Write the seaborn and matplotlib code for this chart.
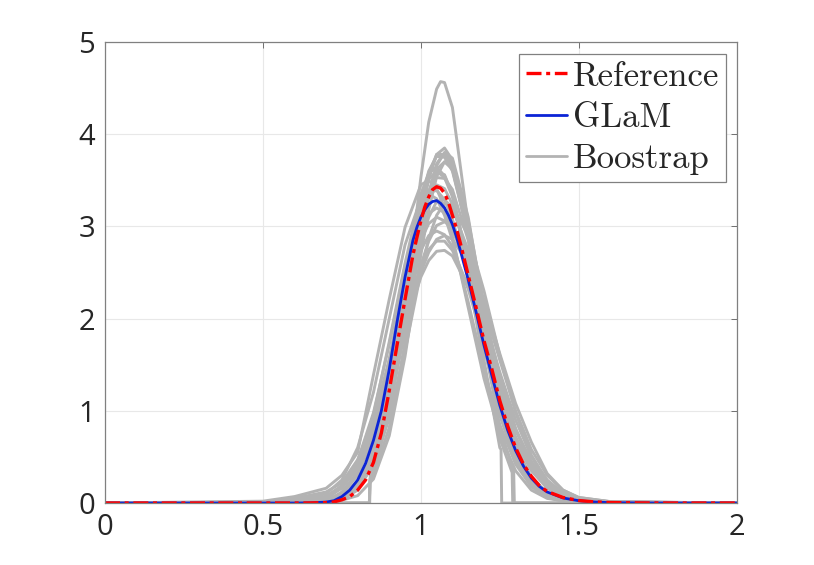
import matplotlib
matplotlib.use("Agg")
import matplotlib.pyplot as plt
from matplotlib.lines import Line2D
import pandas as pd
import seaborn as sns

# density of reference and GLaM estimate
x_fine = [0, 0.6, 0.65, 0.7, 0.725, 0.75, 0.775, 0.8, 0.825, 0.85, 0.875, 0.9, 0.925,
          0.95, 0.975, 0.9875, 1.0, 1.0125, 1.025, 1.0375, 1.05, 1.0625, 1.075, 1.0875,
          1.1, 1.1125, 1.125, 1.15, 1.175, 1.2, 1.225, 1.25, 1.275, 1.3, 1.325, 1.35,
          1.375, 1.4, 1.45, 1.5, 1.55, 1.6, 1.7, 1.8, 2.0]
ref_pdf = [0, 0, 0.001, 0.005, 0.012, 0.035, 0.07, 0.14, 0.25, 0.44, 0.76, 1.22, 1.72,
           2.21, 2.69, 2.88, 3.06, 3.21, 3.32, 3.40, 3.43, 3.415, 3.36, 3.26,
           3.12, 2.98, 2.82, 2.47, 2.12, 1.76, 1.45, 1.11, 0.835, 0.6, 0.42, 0.29,
           0.19, 0.125, 0.06, 0.027, 0.012, 0.005, 0.001, 0, 0]
glam_pdf = [0, 0, 0.002, 0.01, 0.025, 0.07, 0.14, 0.25, 0.43, 0.68, 1.0, 1.45, 1.97,
            2.45, 2.85, 2.99, 3.1, 3.18, 3.24, 3.27, 3.28, 3.25, 3.2, 3.12,
            3.02, 2.89, 2.74, 2.42, 2.07, 1.71, 1.38, 1.06, 0.79, 0.57, 0.4, 0.27,
            0.18, 0.12, 0.055, 0.025, 0.011, 0.004, 0.001, 0, 0]

# bootstrap replicates
x_boot = [0, 0.5, 0.6, 0.7, 0.75, 0.8, 0.85, 0.9, 0.95, 1.0, 1.025, 1.05, 1.075, 1.1,
          1.15, 1.2, 1.25, 1.3, 1.35, 1.4, 1.45, 1.5, 1.6, 2.0]
boot_1 = [0, 0, 0.005, 0.01, 0.04, 0.14, 0.42, 1.04, 2.0, 3.08, 3.51, 3.78, 3.85, 3.72, 3.01, 2.03, 1.12, 0.52, 0.2, 0.07, 0.035, 0.015, 0.003, 0]
boot_2 = [0, 0, 0.005, 0.015, 0.07, 0.23, 0.61, 1.32, 2.29, 3.26, 3.6, 3.76, 3.75, 3.6, 2.92, 2.02, 1.19, 0.6, 0.26, 0.09, 0.04, 0.02, 0.004, 0]
boot_3 = [0, 0, 0, 0.005, 0.03, 0.08, 0.26, 0.73, 1.59, 2.69, 3.18, 3.54, 3.70, 3.65, 3.07, 2.15, 1.24, 0.6, 0.23, 0.08, 0.035, 0.015, 0.003, 0]
boot_4 = [0, 0, 0.005, 0.02, 0.12, 0.34, 0.79, 1.55, 2.47, 3.28, 3.51, 3.6, 3.53, 3.32, 2.61, 1.75, 1.0, 0.49, 0.2, 0.07, 0.035, 0.015, 0.003, 0]
boot_5 = [0, 0.02, 0.07, 0.16, 0.3, 0.55, 1.39, 2.21, 2.99, 3.45, 3.5, 3.41, 3.2, 2.89, 2.12, 1.35, 0.74, 0.35, 0.14, 0.05, 0.025, 0.01, 0.002, 0]
boot_6 = [0, 0.005, 0.02, 0.06, 0.18, 0.46, 0.98, 1.72, 2.57, 3.22, 3.37, 3.39, 3.29, 3.08, 2.45, 1.68, 1.01, 0.53, 0.24, 0.1, 0.045, 0.02, 0.004, 0]
boot_7 = [0, 0, 0.005, 0.015, 0.08, 0.23, 0.57, 1.19, 2.0, 2.81, 3.1, 3.27, 3.29, 3.2, 2.74, 2.08, 1.38, 0.81, 0.41, 0.19, 0.08, 0.04, 0.01, 0]
boot_8 = [0, 0.005, 0.025, 0.07, 0.18, 0.43, 0.89, 1.56, 2.32, 2.95, 3.14, 3.2, 3.15, 3.03, 2.56, 1.94, 1.31, 0.79, 0.43, 0.21, 0.1, 0.05, 0.012, 0]
boot_9 = [0, 0, 0.005, 0.02, 0.09, 0.24, 0.57, 1.11, 1.85, 2.58, 2.84, 3.01, 3.05, 3.0, 2.69, 2.2, 1.62, 1.08, 0.66, 0.32, 0.14, 0.06, 0.015, 0]
boot_10 = [0, 0.01, 0.05, 0.12, 0.22, 0.47, 0.9, 1.52, 2.19, 2.74, 2.9, 2.95, 2.91, 2.78, 2.32, 1.73, 1.14, 0.67, 0.35, 0.16, 0.07, 0.03, 0.008, 0]
boot_11 = [0, 0, 0.01, 0.04, 0.17, 0.38, 0.77, 1.34, 1.99, 2.56, 2.75, 2.84, 2.84, 2.74, 2.35, 1.78, 1.21, 0.72, 0.38, 0.18, 0.08, 0.035, 0.01, 0]
boot_12 = [0, 0.005, 0.02, 0.06, 0.18, 0.4, 0.78, 1.31, 1.92, 2.45, 2.63, 2.73, 2.74, 2.68, 2.34, 1.83, 1.29, 0.8, 0.45, 0.23, 0.1, 0.04, 0.01, 0]
boot_13 = [0, 0, 0.003, 0.01, 0.05, 0.18, 0.51, 1.16, 2.09, 3.01, 3.31, 3.45, 3.41, 3.24, 2.64, 1.85, 1.12, 0.59, 0.26, 0.11, 0.04, 0.015, 0.003, 0]
boot_14 = [0, 0, 0, 0.005, 0.04, 0.15, 0.43, 0.99, 1.89, 2.91, 3.35, 3.66, 3.80, 3.74, 3.1, 2.1, 1.14, 0.51, 0.19, 0.06, 0.02, 0.008, 0.002, 0]
boot_15 = [0, 0.01, 0.03, 0.07, 0.18, 0.4, 0.95, 1.75, 2.6, 3.35, 3.58, 3.64, 3.55, 3.35, 2.6, 1.72, 0.95, 0.45, 0.18, 0.06, 0.03, 0.012, 0.002, 0]
boot_16 = [0, 0, 0.01, 0.03, 0.1, 0.3, 0.72, 1.42, 2.3, 3.1, 3.38, 3.53, 3.52, 3.4, 2.85, 2.0, 1.2, 0.62, 0.28, 0.11, 0.05, 0.02, 0.005, 0]
boot_17 = [0, 0.005, 0.02, 0.06, 0.16, 0.4, 0.85, 1.5, 2.22, 2.85, 3.03, 3.1, 3.06, 2.96, 2.55, 2.0, 1.42, 0.9, 0.5, 0.25, 0.11, 0.05, 0.012, 0]
boot_18 = [0, 0, 0, 0.01, 0.05, 0.17, 0.48, 1.1, 2.0, 2.95, 3.35, 3.62, 3.7, 3.62, 3.0, 2.1, 1.2, 0.58, 0.24, 0.09, 0.04, 0.015, 0.003, 0]
boot_19 = [0, 0.01, 0.04, 0.1, 0.25, 0.6, 1.2, 2.0, 2.8, 3.3, 3.35, 3.3, 3.12, 2.85, 2.18, 1.45, 0.85, 0.42, 0.18, 0.07, 0.03, 0.012, 0.003, 0]
boot_20 = [0, 0.005, 0.025, 0.07, 0.19, 0.42, 0.8, 1.33, 1.95, 2.5, 2.72, 2.86, 2.9, 2.86, 2.6, 2.12, 1.55, 1.0, 0.58, 0.3, 0.14, 0.06, 0.015, 0]
boot_21 = [0, 0, 0.005, 0.015, 0.06, 0.2, 0.55, 1.25, 2.2, 3.2, 3.57, 3.78, 3.78, 3.62, 2.9, 1.96, 1.12, 0.54, 0.22, 0.08, 0.035, 0.015, 0.003, 0]
boot_22 = [0, 0, 0.005, 0.015, 0.05, 0.16, 0.42, 0.92, 1.65, 2.5, 2.87, 3.12, 3.25, 3.22, 2.9, 2.3, 1.6, 0.98, 0.52, 0.24, 0.1, 0.045, 0.01, 0]

# replicates with truncated support
x_trunc_1 = [0, 0.837, 0.839, 0.85, 0.9, 0.95, 1.0, 1.025, 1.05, 1.0625, 1.075, 1.1, 1.15, 1.2, 1.25, 1.254, 1.256, 2.0]
trunc_1 = [0, 0, 0.26, 0.33, 0.96, 2.12, 3.53, 4.13, 4.49, 4.57, 4.56, 4.29, 3.02, 1.55, 0.6, 0.58, 0, 0]
x_trunc_2 = [0, 0.837, 0.839, 0.85, 0.9, 0.95, 1.0, 1.025, 1.05, 1.075, 1.1, 1.15, 1.2, 1.25, 1.294, 1.296, 2.0]
trunc_2 = [0, 0, 0.24, 0.3, 0.82, 1.74, 2.87, 3.35, 3.68, 3.8, 3.68, 2.87, 1.74, 0.82, 0.34, 0, 0]
x_trunc_3 = [0, 0.838, 0.84, 0.85, 0.9, 0.95, 1.0, 1.025, 1.05, 1.075, 1.1, 1.15, 1.2, 1.25, 1.289, 1.291, 2.0]
trunc_3 = [0, 0, 0.32, 0.4, 1.0, 1.97, 3.0, 3.38, 3.58, 3.56, 3.35, 2.49, 1.48, 0.7, 0.33, 0, 0]

boot_curves = [boot_1, boot_2, boot_3, boot_4, boot_5, boot_6, boot_7, boot_8, boot_9,
               boot_10, boot_11, boot_12, boot_13, boot_14, boot_15, boot_16, boot_17,
               boot_18, boot_19, boot_20, boot_21, boot_22]
trunc_curves = [(x_trunc_1, trunc_1), (x_trunc_2, trunc_2), (x_trunc_3, trunc_3)]

rows = []
for i, ys in enumerate(boot_curves):
    for xv, yv in zip(x_boot, ys):
        rows.append((i, xv, yv))
for j, (xs, ys) in enumerate(trunc_curves):
    for xv, yv in zip(xs, ys):
        rows.append((len(boot_curves) + j, xv, yv))
boot_df = pd.DataFrame(rows, columns=["rep", "x", "y"])

sns.set_style("whitegrid")
plt.rcParams["font.family"] = ["Open Sans", "DejaVu Sans"]

gray = "#b3b3b3"
blue = "#0b24d6"
red = "#ff0000"
dashdot = (0, (4.5, 1.4, 1.2, 1.4))

fig = plt.figure(figsize=(8.14, 5.65), dpi=100)
ax = fig.add_axes([0.129, 0.1097, 0.776, 0.816])

sns.lineplot(data=boot_df, x="x", y="y", units="rep", estimator=None, sort=False,
             color=gray, lw=2.1, ax=ax, legend=False)
sns.lineplot(x=x_fine, y=glam_pdf, color=blue, lw=2.0, ax=ax)
sns.lineplot(x=x_fine, y=ref_pdf, color=red, lw=2.4, ax=ax, linestyle=dashdot)

ax.set_xlim(0, 2)
ax.set_ylim(0, 5)
ax.set_xticks([0, 0.5, 1, 1.5, 2])
ax.set_xticklabels(["0", "0.5", "1", "1.5", "2"])
ax.set_yticks([0, 1, 2, 3, 4, 5])
ax.set_xlabel("")
ax.set_ylabel("")
ax.grid(True, color="#e8e8e8", lw=0.8)
ax.tick_params(direction="in", top=True, right=True, length=4, width=0.7,
               color="#707070", labelsize=21, labelcolor="#262626", pad=7)
for sp in ax.spines.values():
    sp.set_color("#808080")
    sp.set_linewidth(0.9)

handles = [Line2D([], [], color=red, lw=2.4, linestyle=dashdot),
           Line2D([], [], color=blue, lw=2.0),
           Line2D([], [], color=gray, lw=2.0)]
leg = ax.legend(handles, ["Reference", "GLaM", "Boostrap"], loc="upper right",
                bbox_to_anchor=(0.983, 0.974), borderaxespad=0,
                prop={"family": "cmr10", "size": 25}, handlelength=1.2,
                handletextpad=0.15, labelspacing=0.28, borderpad=0.2,
                fancybox=False, framealpha=1)
leg.get_frame().set_edgecolor("#808080")
leg.get_frame().set_linewidth(0.9)

fig.savefig("out.png", dpi=100)
